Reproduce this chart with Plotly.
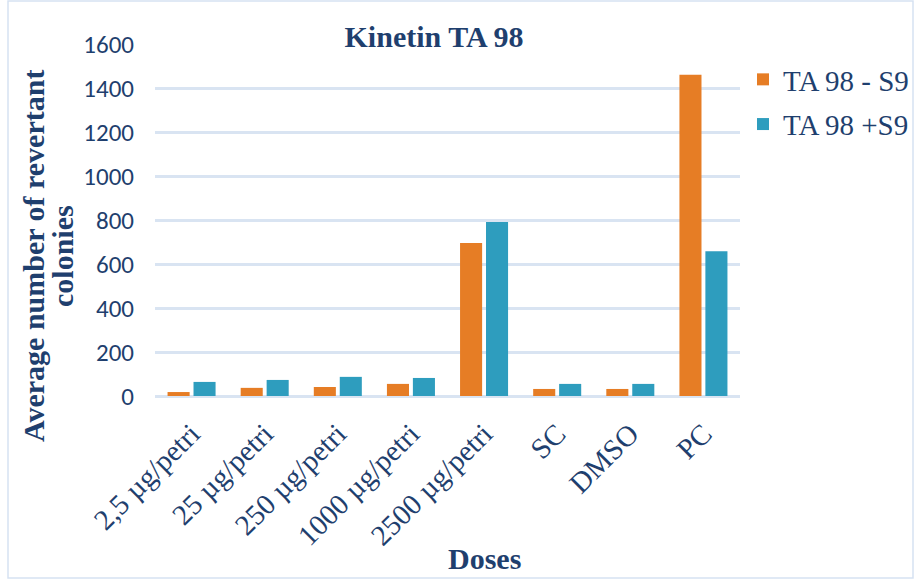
import plotly.graph_objects as go

categories = ["2,5 µg/petri", "25 µg/petri", "250 µg/petri", "1000 µg/petri",
              "2500 µg/petri", "SC", "DMSO", "PC"]
minus_s9 = [18, 37, 41, 55, 695, 32, 32, 1460]
plus_s9 = [64, 73, 87, 82, 791, 55, 55, 658]
series_names = ["TA 98 - S9", "TA 98 +S9"]
y_ticks = [0, 200, 400, 600, 800, 1000, 1200, 1400, 1600]

W, H = 917, 581
L, R, T, B = 155, 177, 44, 185
pw, ph = W - L - R, H - T - B

def px_x(x):
    return (x - L) / pw

def px_y(y):
    return (H - B - y) / ph

dark = "#1F3F6E"
serif = "Liberation Serif, Times New Roman, serif"
sans = "Carlito, Noto Sans, Open Sans, sans-serif"

fig = go.Figure()
fig.add_trace(go.Bar(x=categories, y=minus_s9, name=series_names[0],
                     marker=dict(color="#E67D25", line=dict(width=0)),
                     legendgroup="a"))
fig.add_trace(go.Bar(x=categories, y=plus_s9, name=series_names[1],
                     marker=dict(color="#2E9DBE", line=dict(width=0)),
                     legendgroup="b"))

fig.update_layout(
    width=W, height=H,
    margin=dict(l=L, r=R, t=T, b=B, autoexpand=False),
    paper_bgcolor="white", plot_bgcolor="white",
    barmode="group", bargap=0.29, bargroupgap=0.15,
    title=dict(text="<b>Kinetin TA 98</b>", x=434 / W, xref="container",
               xanchor="center", y=1 - 36 / H, yref="container", yanchor="middle",
               font=dict(family=serif, size=30, color=dark)),
    legend=dict(x=px_x(743), y=px_y(54), xanchor="left", yanchor="top",
                font=dict(family=serif, size=29, color=dark),
                tracegroupgap=4, traceorder="grouped",
                bgcolor="rgba(0,0,0,0)"),
    showlegend=True,
)
fig.update_xaxes(
    tickangle=-45, tickfont=dict(family=serif, size=29, color=dark),
    showgrid=False, showline=False, ticks="", automargin=False,
    ticklabelstandoff=14,
)
fig.update_yaxes(
    range=[0, 1600], tickvals=y_ticks, showgrid=True,
    gridcolor="#D9E4F2", gridwidth=2.5, zeroline=True, zerolinecolor="#D9E4F2",
    zerolinewidth=2.5, showline=False, ticks="", ticklabelstandoff=20,
    tickfont=dict(family=sans, size=25, color=dark), automargin=False,
)
fig.add_annotation(text="<b>Doses</b>", x=px_x(484), y=px_y(558), xref="paper", yref="paper",
                   showarrow=False, font=dict(family=serif, size=30, color=dark),
                   xanchor="center", yanchor="middle")
fig.add_annotation(text="<b>Average number of revertant</b>", x=px_x(33), y=px_y(256),
                   xref="paper", yref="paper", textangle=-90, showarrow=False,
                   font=dict(family=serif, size=30, color=dark),
                   xanchor="center", yanchor="middle")
fig.add_annotation(text="<b>colonies</b>", x=px_x(62), y=px_y(256),
                   xref="paper", yref="paper", textangle=-90, showarrow=False,
                   font=dict(family=serif, size=30, color=dark),
                   xanchor="center", yanchor="middle")
fig.add_shape(type="rect", xref="paper", yref="paper",
              x0=px_x(8), x1=px_x(913), y0=px_y(578), y1=px_y(1),
              line=dict(color="#D6E2F2", width=1.5), layer="below")

fig.write_html("out.html")
